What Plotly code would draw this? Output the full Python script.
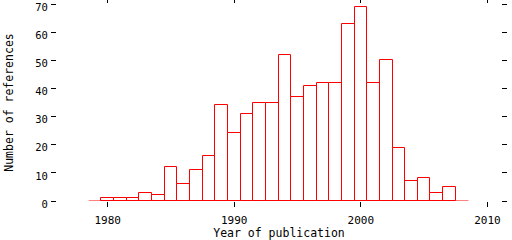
import plotly.graph_objects as go

years = list(range(1980, 2008))
counts = [1, 1, 1, 3, 2, 12, 6, 11, 16, 34, 24, 31, 35, 35, 52, 37, 41, 42, 42, 63,
          69, 42, 50, 19, 7, 8, 3, 5]
x_ticks = [1980, 1990, 2000, 2010]
y_ticks = [0, 10, 20, 30, 40, 50, 60, 70]

RED = "#ff0000"
FONT = "DejaVu Sans Mono"

fig = go.Figure()
fig.add_trace(go.Bar(
    x=years, y=counts, width=1,
    marker=dict(color="white", line=dict(color=RED, width=1)),
    showlegend=False,
))
fig.add_trace(go.Scatter(
    x=[min(years) - 1.5, max(years) + 1.5], y=[0, 0], mode="lines",
    line=dict(color=RED, width=1), showlegend=False, hoverinfo="skip",
))

axis_common = dict(
    showgrid=False, zeroline=False, showline=False,
    ticks="outside", ticklen=5, tickwidth=1, tickcolor="black",
    mirror="ticks",
    ticklabeloverflow="allow", automargin=False,
)
fig.update_layout(
    width=512, height=240,
    margin=dict(l=57, r=11, t=4, b=39),
    plot_bgcolor="white", paper_bgcolor="white",
    bargap=0,
    xaxis=dict(range=[1976.0, 2011.07], tickvals=x_ticks,
               ticktext=[str(v) for v in x_ticks], ticklabelstandoff=4,
               tickfont=dict(family=FONT, size=11, color="black"),
               title=dict(text="Year of publication", standoff=10,
                          font=dict(family=FONT, size=11.5, color="black")),
               **axis_common),
    yaxis=dict(range=[0, 70], tickvals=y_ticks, ticklabelstandoff=1,
               ticklabelshift=3,
               tickfont=dict(family=FONT, size=10.5, color="black"),
               title=dict(text="Number of references", standoff=19,
                          font=dict(family=FONT, size=11.5, color="black")),
               **axis_common),
)
fig.write_html("out.html")
